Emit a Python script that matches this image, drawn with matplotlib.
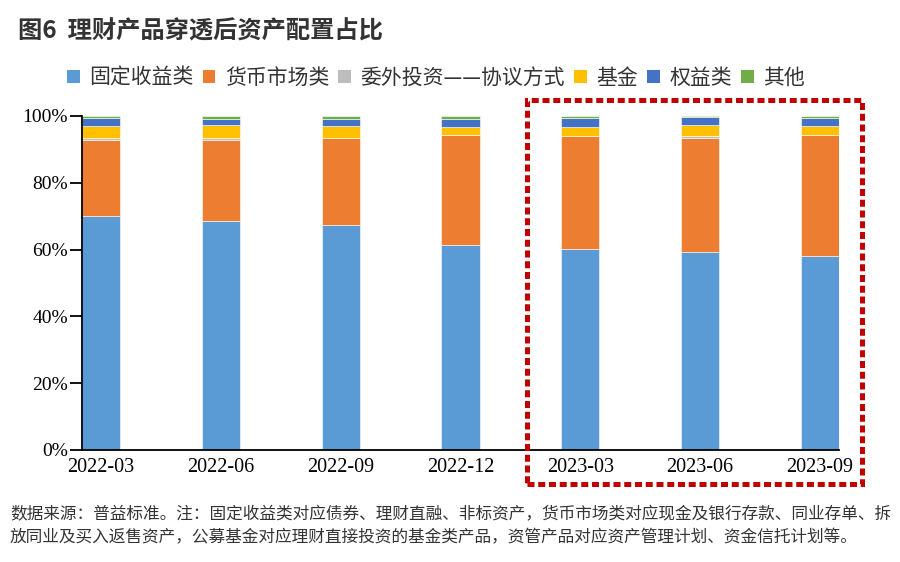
import numpy as np
import matplotlib
matplotlib.use("Agg")
import matplotlib.pyplot as plt
from matplotlib.patches import Rectangle, Patch

plt.rcParams['font.family'] = ['Noto Sans CJK SC', 'DejaVu Sans']

# data (% of assets)
periods = ['2022-03', '2022-06', '2022-09', '2022-12', '2023-03', '2023-06', '2023-09']
fixed_income = [70.1, 68.7, 67.3, 61.3, 60.3, 59.4, 58.0]
money_market = [22.7, 24.1, 26.1, 33.0, 33.6, 34.0, 36.4]
outsourced = [0.5, 0.5, 0.1, 0.0, 0.1, 0.5, 0.0]
funds = [3.8, 4.0, 3.6, 2.4, 2.8, 3.4, 2.7]
equity = [2.4, 1.8, 2.0, 2.4, 2.6, 2.3, 2.4]
other = [0.5, 0.9, 0.9, 0.9, 0.6, 0.4, 0.5]

series_names = ['固定收益类', '货币市场类', '委外投资——协议方式', '基金', '权益类', '其他']
colors = ['#5B9BD5', '#ED7D31', '#BDBDBD', '#FFC000', '#4472C4', '#70AD47']

fig = plt.figure(figsize=(9, 5.62), dpi=100)
ax = fig.add_axes([82/900, 1-450/562, 757/900, 334/562])

x = np.arange(len(periods))
w = 0.32
bottom = np.zeros(len(periods))
for vals, c in zip([fixed_income, money_market, outsourced, funds, equity, other], colors):
    ax.bar(x, vals, w, bottom=bottom, color=c, edgecolor='white', linewidth=0.4)
    bottom += np.array(vals)

ax.set_xlim(-w/2, len(periods)-1+w/2)
ax.set_ylim(0, 100)
ax.set_yticks([0, 20, 40, 60, 80, 100])
ax.set_yticklabels(['%d%%' % v for v in [0, 20, 40, 60, 80, 100]],
                   family='Liberation Serif', fontsize=14)
ax.set_xticks(x)
ax.set_xticklabels(periods, family='Liberation Serif', fontsize=14.5)
ax.tick_params(axis='x', length=0, pad=6)
ax.tick_params(axis='y', length=8.5, width=1.3, pad=1.5)
for s in ['top', 'right']:
    ax.spines[s].set_visible(False)
for s in ['left', 'bottom']:
    ax.spines[s].set_linewidth(1.3)

# title
fig.text(18/900, 1-31/562, '图6  理财产品穿透后资产配置占比', fontsize=17.5,
         fontweight='bold', color='#333333', va='center', ha='left')

# legend
handles = [Patch(facecolor=c, edgecolor='none') for c in colors]
fig.legend(handles, series_names, loc='center', bbox_to_anchor=(436/900, 1-78/562),
           ncol=6, frameon=False, fontsize=15, handlelength=0.6, handleheight=0.6,
           handletextpad=0.45, columnspacing=0.45, labelcolor='#333333')

# red dotted frame around 2023 bars
fig.patches.append(Rectangle((527/900, 1-484/562), 335/900, 384/562,
                             transform=fig.transFigure, fill=False,
                             edgecolor='#C00000', linewidth=3.6,
                             linestyle=(0, (1.4, 0.75))))

# footnote
note1 = '数据来源：普益标准。注：固定收益类对应债券、理财直融、非标资产，货币市场类对应现金及银行存款、同业存单、拆'
note2 = '放同业及买入返售资产，公募基金对应理财直接投资的基金类产品，资管产品对应资产管理计划、资金信托计划等。'
fig.text(10/900, 1-515/562, note1, fontsize=12, color='#333333', va='center')
fig.text(10/900, 1-538/562, note2, fontsize=12, color='#333333', va='center')

fig.savefig('out.png', dpi=100)
